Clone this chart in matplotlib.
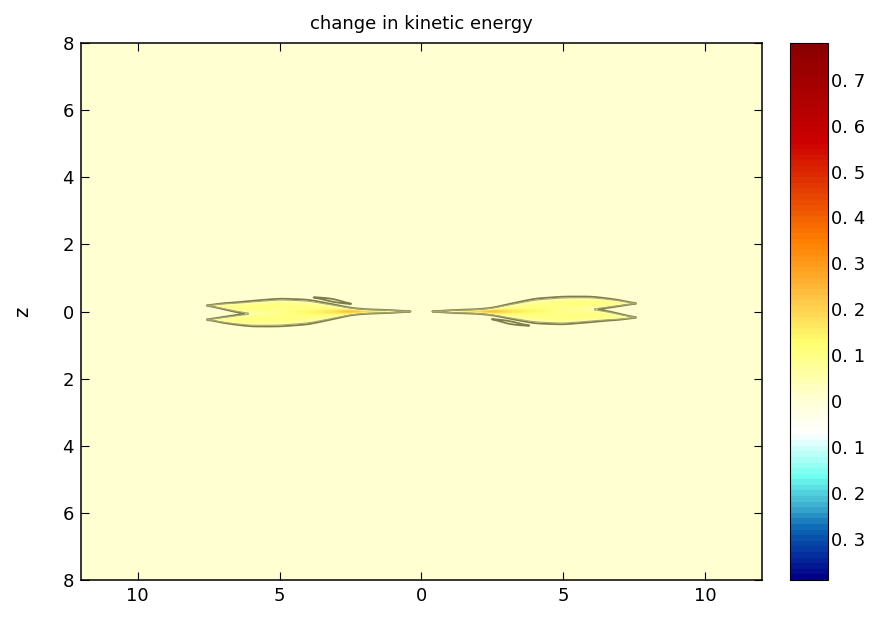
import matplotlib
matplotlib.use("Agg")
import matplotlib.pyplot as plt
import numpy as np
from matplotlib.colors import LinearSegmentedColormap, Normalize

# right-hand blob (the left one is the same turned by 180 deg)
blob_x = [0.4, 1.0, 2.0, 2.5, 3.0, 4.0, 5.0, 6.0, 6.6, 7.0, 7.55]
ridge_up = [0.0, 0.0, 0.01, 0.02, 0.06, 0.15, 0.21, 0.24, 0.25, 0.25, 0.24]
ridge_lo = [0.0, 0.0, -0.01, -0.02, -0.05, -0.12, -0.15, -0.11, -0.13, -0.16, -0.18]
ridge_w = [0.0, 0.04, 0.06, 0.09, 0.15, 0.24, 0.24, 0.21, 0.14, 0.09, 0.0]
ridge_amp = [0.06, 0.11, 0.2, 0.27, 0.21, 0.2, 0.22, 0.22, 0.2, 0.17, 0.14]

# thin sliver just outside the blob
sliver_x = [2.5, 3.1, 3.8]
sliver_z = [-0.22, -0.33, -0.43]
sliver_w = [0.0, 0.055, 0.0]
sliver_amp = [0.03, 0.03, 0.03]

x_ticks = [-10, -5, 0, 5, 10]
x_labels = ['10', '5', '0', '5', '10']
z_ticks = [-8, -6, -4, -2, 0, 2, 4, 6, 8]
z_labels = ['8', '6', '4', '2', '0', '2', '4', '6', '8']
cb_ticks = [0.7, 0.6, 0.5, 0.4, 0.3, 0.2, 0.1, 0.0, -0.1, -0.2, -0.3]
cb_labels = ['0. 7', '0. 6', '0. 5', '0. 4', '0. 3', '0. 2', '0. 1', '0', '0. 1', '0. 2', '0. 3']


def smooth(v, n=21):
    k = np.ones(n) / n
    for _ in range(2):
        v = np.convolve(np.pad(v, n, mode='edge'), k, mode='same')[n:-n]
    return v


def ridge(x, Z, xs, cs, ws, amps):
    inside = (x >= xs[0]) & (x <= xs[-1])
    c = smooth(np.interp(x, xs, cs))
    w = smooth(np.interp(x, xs, ws)) * inside
    a = smooth(np.interp(x, xs, amps)) * inside
    t = (Z - c[None, :]) / np.maximum(w, 1e-6)[None, :]
    return a[None, :] * np.clip(1 - t**2, 0, None)


def half_field(x, Z):
    f = 0.5 * ridge(x, Z, blob_x, ridge_up, ridge_w, ridge_amp)
    f += 0.5 * ridge(x, Z, blob_x, ridge_lo, ridge_w, ridge_amp)
    f += ridge(x, Z, sliver_x, sliver_z, sliver_w, sliver_amp)
    return f


x = np.linspace(-12, 12, 1201)
z = np.linspace(-8, 8, 3201)
X, Z = np.meshgrid(x, z)
field = half_field(x, Z) + half_field(-x, -Z)

cmap = LinearSegmentedColormap.from_list('ke', [
    (0.0, '#00008a'), (0.09, '#0a64b4'), (0.13, '#38a8cc'), (0.19, '#70fff0'),
    (0.27, '#ffffff'), (0.333, '#ffffd6'), (0.44, '#ffff70'), (0.52, '#ffc848'),
    (0.63, '#ff8000'), (0.82, '#cc0000'), (1.0, '#8a0000')], N=96)
norm = Normalize(vmin=-0.39, vmax=0.78)

fig = plt.figure(figsize=(8.83, 6.18), dpi=100)
ax = fig.add_axes([0.0917, 0.0615, 0.7712, 0.8689])
cax = fig.add_axes([0.8947, 0.0615, 0.043, 0.8689])

im = ax.imshow(field, extent=[-12, 12, -8, 8], origin='lower', aspect='auto',
               cmap=cmap, norm=norm, interpolation='bilinear')
ax.contour(X, Z, field, levels=[0.004, 0.035], colors=['#7d7d4a', '#a8a872'],
           linewidths=[1.3, 0.8])

ax.set_xlim(-12, 12)
ax.set_ylim(-8, 8)
ax.set_xticks(x_ticks)
ax.set_xticklabels(x_labels)
ax.set_yticks(z_ticks)
ax.set_yticklabels(z_labels)
ax.tick_params(direction='in', length=6, width=0.8, top=True, right=True,
               labelsize=13, pad=5)
for s in ax.spines.values():
    s.set_linewidth(1.1)
ax.set_ylabel('z', fontsize=14, labelpad=22)
ax.set_title('change in kinetic energy', fontsize=13, pad=10)

cb = fig.colorbar(im, cax=cax)
cb.set_ticks(cb_ticks)
cb.set_ticklabels(cb_labels)
cb.ax.tick_params(length=0, labelsize=13, pad=2)

fig.savefig('out.png', dpi=100)
